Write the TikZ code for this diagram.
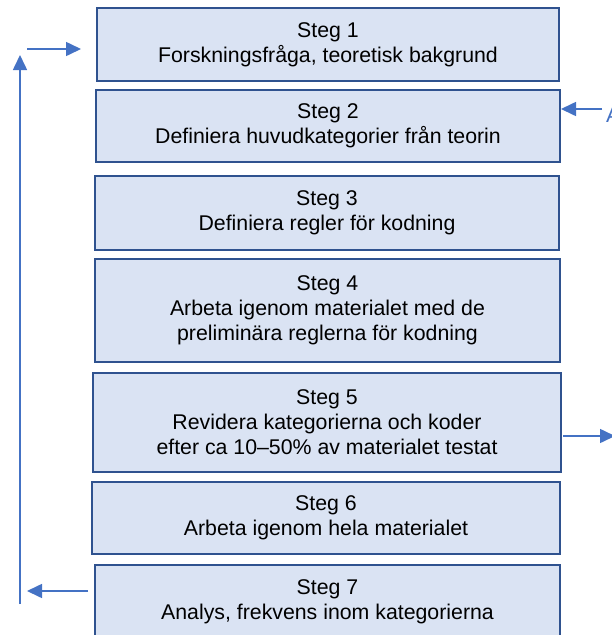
\documentclass[tikz,border=0pt]{standalone}
\usepackage{fontspec}
\setmainfont{Liberation Sans}
\usetikzlibrary{arrows.meta}
\definecolor{boxfill}{HTML}{DAE3F3}
\definecolor{boxline}{HTML}{2F528F}
\definecolor{arrowblue}{HTML}{4472C4}
\tikzset{
  stepbox/.style={draw=boxline, fill=boxfill, line width=2.4pt, inner sep=0pt,
    align=center, font=\fontsize{21.3}{25}\selectfont, text=black},
  flowarrow/.style={draw=arrowblue, line width=1.6pt,
    -{Triangle[length=15pt,width=14pt]}, shorten >=0pt}
}
\begin{document}
\begin{tikzpicture}[x=1pt,y=-1pt]
\useasboundingbox (0,0) rectangle (611,635);
\node[stepbox, minimum width=462pt, minimum height=73pt] (s1) at (328,44.5)
  {Steg 1\\Forskningsfråga, teoretisk bakgrund};
\node[stepbox, minimum width=464pt, minimum height=72pt] (s2) at (328,126)
  {Steg 2\\Definiera huvudkategorier från teorin};
\node[stepbox, minimum width=464pt, minimum height=74pt] (s3) at (327,213)
  {Steg 3\\Definiera regler för kodning};
\node[stepbox, minimum width=465pt, minimum height=103pt] (s4) at (327.5,310.5)
  {Steg 4\\Arbeta igenom materialet med de\\preliminära reglerna för kodning};
\node[stepbox, minimum width=468pt, minimum height=99pt] (s5) at (327,422.5)
  {Steg 5\\Revidera kategorierna och koder\\efter ca 10–50\% av materialet testat};
\node[stepbox, minimum width=468pt, minimum height=72pt] (s6) at (326,518)
  {Steg 6\\Arbeta igenom hela materialet};
\node[stepbox, minimum width=465pt, minimum height=74pt] (s7) at (327.5,602)
  {Steg 7\\Analys, frekvens inom kategorierna};
% free ends of connectors
\coordinate (vb) at (20,604);
\coordinate (vt) at (20,55);
\coordinate (ta) at (27,49);
\coordinate (tb) at (81,49);
\coordinate (ba) at (88,591);
\coordinate (bb) at (27,591);
\coordinate (ra) at (602,109);
\coordinate (rb) at (561,109);
\coordinate (fa) at (563,436);
\coordinate (fb) at (615,436);
\draw[flowarrow] (vb) -- (vt);
\draw[flowarrow] (ta) -- (tb);
\draw[flowarrow] (ba) -- (bb);
\draw[flowarrow] (ra) -- (rb);
\draw[flowarrow] (fa) -- (fb);
\node[anchor=base west, inner sep=0pt, text=arrowblue,
  font=\fontsize{21.3}{25}\selectfont] (lbl) at (606,122) {A};
\end{tikzpicture}
\end{document}
